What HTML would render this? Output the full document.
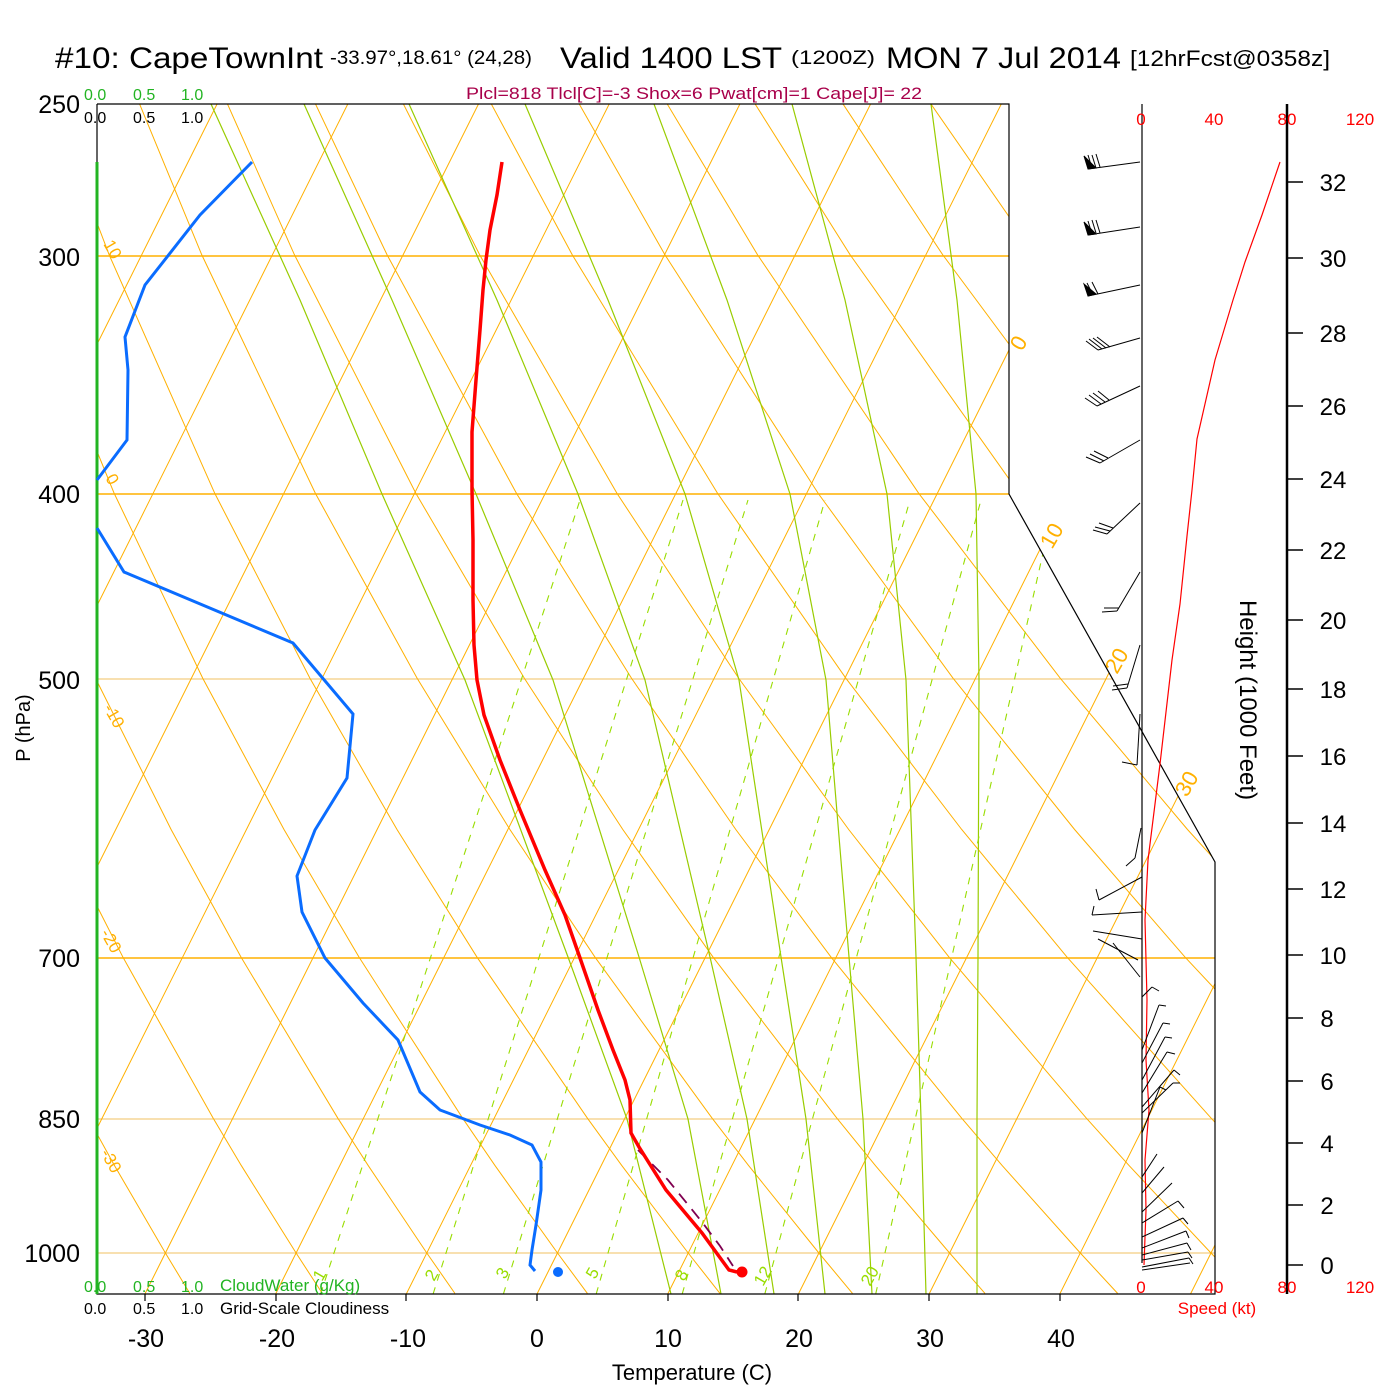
<!DOCTYPE html>
<html><head><meta charset="utf-8"><style>
html,body{margin:0;padding:0;background:#fff;}
svg{display:block;font-family:"Liberation Sans",Arial,sans-serif;}
</style></head><body>
<svg width="1400" height="1400" viewBox="0 0 1400 1400" xmlns="http://www.w3.org/2000/svg">
<defs><clipPath id="cp"><polygon points="97,104 1009,104 1009,494 1215,862 1215,1294 97,1294"/></clipPath></defs>
<rect width="1400" height="1400" fill="#fff"/>
<g clip-path="url(#cp)" fill="none">
<!-- isobars -->
<g stroke="#ffb000" stroke-width="1.6">
<line x1="97" y1="256" x2="1215" y2="256"/><line x1="97" y1="494" x2="1215" y2="494"/><line x1="97" y1="958" x2="1215" y2="958"/>
</g>
<g stroke="#f0c060" stroke-width="1">
<line x1="97" y1="679" x2="1215" y2="679"/><line x1="97" y1="1119" x2="1215" y2="1119"/><line x1="97" y1="1253" x2="1215" y2="1253"/>
</g>
<!-- isotherms -->
<g stroke="#ffb000" stroke-width="1">
<line x1="-377.9" y1="1294" x2="217.1" y2="104"/>
<line x1="-247.2" y1="1294" x2="347.8" y2="104"/>
<line x1="-116.5" y1="1294" x2="478.5" y2="104"/>
<line x1="14.2" y1="1294" x2="609.2" y2="104"/>
<line x1="144.9" y1="1294" x2="739.9" y2="104"/>
<line x1="275.6" y1="1294" x2="870.6" y2="104"/>
<line x1="406.3" y1="1294" x2="1001.3" y2="104"/>
<line x1="537" y1="1294" x2="1132" y2="104"/>
<line x1="667.7" y1="1294" x2="1262.7" y2="104"/>
<line x1="798.4" y1="1294" x2="1393.4" y2="104"/>
<line x1="929.1" y1="1294" x2="1524.1" y2="104"/>
<line x1="1059.8" y1="1294" x2="1654.8" y2="104"/>
<line x1="1190.5" y1="1294" x2="1785.5" y2="104"/>
</g>
<!-- dry adiabats -->
<g stroke="#ffb000" stroke-width="1">
<polyline points="189.8,1293.4 165.4,1253 114.6,1165.7 88.4,1118.3 5,957.3 -54.8,829.5 -118.8,678.4 -187.5,493.4"/>
<polyline points="322.3,1293.4 296.1,1253 241.4,1165.7 213.2,1118.3 123,957.3 58.1,829.5 -11.6,678.4 -86.9,493.4"/>
<polyline points="454.9,1293.4 426.8,1253 368.3,1165.7 337.9,1118.3 241.1,957.3 171.1,829.5 95.6,678.4 13.7,493.4 -76.1,254.9"/>
<polyline points="587.4,1293.4 557.5,1253 495.1,1165.7 462.7,1118.3 359.1,957.3 284,829.5 202.8,678.4 114.2,493.4 16.6,254.9 -36.3,103.8"/>
<polyline points="720,1293.4 688.2,1253 621.9,1165.7 587.5,1118.3 477.1,957.3 397,829.5 310,678.4 214.8,493.4 109.2,254.9 51.6,103.8"/>
<polyline points="852.5,1293.4 818.9,1253 748.7,1165.7 712.2,1118.3 595.1,957.3 509.9,829.5 417.2,678.4 315.4,493.4 201.8,254.9 139.5,103.8"/>
<polyline points="985,1293.4 949.6,1253 875.5,1165.7 837,1118.3 713.2,957.3 622.8,829.5 524.4,678.4 415.9,493.4 294.5,254.9 227.4,103.8"/>
<polyline points="1117.6,1293.4 1080.3,1253 1002.3,1165.7 961.8,1118.3 831.2,957.3 735.8,829.5 631.6,678.4 516.5,493.4 387.1,254.9 315.4,103.8"/>
<polyline points="1250.1,1293.4 1211,1253 1129.2,1165.7 1086.5,1118.3 949.2,957.3 848.7,829.5 738.8,678.4 617,493.4 479.7,254.9 403.3,103.8"/>
<polyline points="1382.7,1293.4 1341.7,1253 1256,1165.7 1211.3,1118.3 1067.2,957.3 961.7,829.5 846,678.4 717.6,493.4 572.3,254.9 491.2,103.8"/>
<polyline points="1515.2,1293.4 1472.4,1253 1382.8,1165.7 1336.1,1118.3 1185.2,957.3 1074.6,829.5 953.2,678.4 818.2,493.4 665,254.9 579.1,103.8"/>
<polyline points="1647.8,1293.4 1603.1,1253 1509.6,1165.7 1460.8,1118.3 1303.3,957.3 1187.5,829.5 1060.4,678.4 918.8,493.4 757.6,254.9 667.1,103.8"/>
<polyline points="1780.3,1293.4 1733.8,1253 1636.4,1165.7 1585.6,1118.3 1421.3,957.3 1300.5,829.5 1167.6,678.4 1019.3,493.4 850.2,254.9 755,103.8"/>
<polyline points="1912.8,1293.4 1864.5,1253 1763.3,1165.7 1710.4,1118.3 1539.3,957.3 1413.4,829.5 1274.8,678.4 1119.9,493.4 942.8,254.9 842.9,103.8"/>
<polyline points="2045.4,1293.4 1995.2,1253 1890.1,1165.7 1835.1,1118.3 1657.3,957.3 1526.4,829.5 1382,678.4 1220.5,493.4 1035.5,254.9 930.8,103.8"/>
</g>
<!-- moist adiabats -->
<g stroke="#99cc00" stroke-width="1.2">
<polyline points="211,104 300,300 382,494 465,680 568,957 627,1119 671,1294"/>
<polyline points="304,104 392,300 476,494 553,680 639,957 688,1119 721,1294"/>
<polyline points="409,104 497,300 578,494 645,680 710,957 747,1119 774,1294"/>
<polyline points="525,104 608,300 685,494 739,680 781,957 806,1119 825,1294"/>
<polyline points="654,104 727,300 790,494 826,680 849,957 863,1119 872,1294"/>
<polyline points="792,104 845,300 887,494 906,680 916,957 921,1119 926,1294"/>
<polyline points="931,104 957,300 976,494 979,680 978,957 977,1119 977,1294"/>
</g>
<!-- mixing ratio -->
<g stroke="#99dd00" stroke-width="1.1" stroke-dasharray="7,7">
<line x1="320.6" y1="1294" x2="580" y2="500"/>
<line x1="433.1" y1="1294" x2="683" y2="500"/>
<line x1="503.4" y1="1294" x2="748" y2="500"/>
<line x1="596.2" y1="1294" x2="825" y2="500"/>
<line x1="682.2" y1="1294" x2="910" y2="500"/>
<line x1="764.8" y1="1294" x2="981" y2="500"/>
<line x1="875.7" y1="1294" x2="1055" y2="500"/>
</g>
</g>
<!-- border -->
<polyline points="97,104 1009,104 1009,494 1215,862 1215,1294 97,1294 97,104" fill="none" stroke="#000" stroke-width="1.2"/>
<line x1="97" y1="162" x2="97" y2="1294" stroke="#22b422" stroke-width="3"/>
<g stroke="#000" stroke-width="1.2">
<line x1="145" y1="1294" x2="145" y2="1301"/><line x1="276" y1="1294" x2="276" y2="1301"/><line x1="406" y1="1294" x2="406" y2="1301"/><line x1="537" y1="1294" x2="537" y2="1301"/><line x1="668" y1="1294" x2="668" y2="1301"/><line x1="798" y1="1294" x2="798" y2="1301"/><line x1="929" y1="1294" x2="929" y2="1301"/><line x1="1060" y1="1294" x2="1060" y2="1301"/>
</g>
<!-- title -->
<text x="55" y="68" font-size="30" textLength="268" lengthAdjust="spacingAndGlyphs">#10: CapeTownInt</text>
<text x="330" y="64" font-size="19" textLength="202" lengthAdjust="spacingAndGlyphs">-33.97°,18.61° (24,28)</text>
<text x="560" y="68" font-size="30" textLength="222" lengthAdjust="spacingAndGlyphs">Valid 1400 LST</text>
<text x="791" y="64" font-size="19" textLength="84" lengthAdjust="spacingAndGlyphs">(1200Z)</text>
<text x="886" y="68" font-size="30" textLength="235" lengthAdjust="spacingAndGlyphs">MON 7 Jul 2014</text>
<text x="1130" y="66" font-size="22" textLength="200" lengthAdjust="spacingAndGlyphs">[12hrFcst@0358z]</text>
<text x="466" y="99" font-size="17" fill="#a8004a" textLength="456" lengthAdjust="spacingAndGlyphs">Plcl=818 Tlcl[C]=-3 Shox=6 Pwat[cm]=1 Cape[J]= 22</text>
<g font-size="16" fill="#22b422"><text x="84" y="100">0.0</text><text x="133" y="100">0.5</text><text x="181" y="100">1.0</text></g>
<g font-size="16" fill="#000"><text x="84" y="123">0.0</text><text x="133" y="123">0.5</text><text x="181" y="123">1.0</text></g>
<g font-size="16" fill="#22b422"><text x="84" y="1292">0.0</text><text x="133" y="1292">0.5</text><text x="181" y="1292">1.0</text><text x="220" y="1291" font-size="17">CloudWater (g/Kg)</text></g>
<g font-size="16" fill="#000"><text x="84" y="1314">0.0</text><text x="133" y="1314">0.5</text><text x="181" y="1314">1.0</text><text x="220" y="1314" font-size="17">Grid-Scale Cloudiness</text></g>
<g font-size="25" text-anchor="end">
<text x="80" y="113">250</text><text x="80" y="266">300</text><text x="80" y="503">400</text><text x="80" y="689">500</text><text x="80" y="967">700</text><text x="80" y="1128">850</text><text x="80" y="1262">1000</text>
</g>
<text transform="translate(30,728) rotate(-90)" font-size="20" text-anchor="middle">P (hPa)</text>
<g font-size="25" text-anchor="middle">
<text x="146" y="1347">-30</text><text x="277" y="1347">-20</text><text x="408" y="1347">-10</text><text x="537" y="1347">0</text><text x="668" y="1347">10</text><text x="799" y="1347">20</text><text x="930" y="1347">30</text><text x="1061" y="1347">40</text>
</g>
<text x="692" y="1380" font-size="22" text-anchor="middle">Temperature (C)</text>
<g font-size="22" fill="#ffb000">
<text transform="translate(1022,352) rotate(-60)">0</text>
<text transform="translate(1052,550) rotate(-60)">10</text>
<text transform="translate(1117,675) rotate(-60)">20</text>
<text transform="translate(1187,798) rotate(-60)">30</text>
</g>
<g font-size="17" fill="#ffb000">
<text transform="translate(103,244) rotate(60)">10</text>
<text transform="translate(105,478) rotate(60)">0</text>
<text transform="translate(103,708) rotate(60)">-10</text>
<text transform="translate(100,933) rotate(60)">-20</text>
<text transform="translate(100,1153) rotate(60)">-30</text>
</g>
<g font-size="17" fill="#99dd00">
<text transform="translate(322,1282) rotate(-60)">1</text>
<text transform="translate(434,1282) rotate(-60)">2</text>
<text transform="translate(505,1280) rotate(-60)">3</text>
<text transform="translate(595,1280) rotate(-60)">5</text>
<text transform="translate(684,1282) rotate(-60)">8</text>
<text transform="translate(763,1287) rotate(-60)">12</text>
<text transform="translate(870,1287) rotate(-60)">20</text>
</g>
<!-- data -->
<polyline fill="none" stroke="#0a6cff" stroke-width="3" points="252,162 200,215 145,285 125,337 128,370 127,440 97,480"/>
<polyline fill="none" stroke="#0a6cff" stroke-width="3" points="97,528 124,572 293,643 353,714 347,778 315,830 297,876 302,912 325,958 363,1003 398,1040 420,1092 440,1110 480,1125 510,1135 532,1145 541,1162 541,1190 536,1225 532,1250 530,1265 535,1271"/>
<polyline fill="none" stroke="#800050" stroke-width="1.8" stroke-dasharray="12,8" points="638,1150 668,1180 702,1222 720,1246 733,1266"/>
<polyline fill="none" stroke="#ff0000" stroke-width="3.5" points="502,162 497,195 490,230 486,260 483,290 480,330 476,380 472,432 472,490 473,540 473,600 474,645 477,680 484,715 500,760 520,810 545,870 565,915 580,958 598,1010 613,1050 625,1080 630,1100 631,1133 639,1147 666,1190 702,1233 729,1270 737,1272"/>
<circle cx="558" cy="1272" r="5" fill="#0a6cff"/>
<circle cx="742" cy="1272" r="5.5" fill="#ff0000"/>
<!-- right panel -->
<line x1="1142" y1="104" x2="1142" y2="1263" stroke="#000" stroke-width="1.2"/>
<line x1="1287" y1="104" x2="1287" y2="1294" stroke="#000" stroke-width="2.5"/>
<g stroke="#000" stroke-width="1.5">
<line x1="1287" y1="1265" x2="1303" y2="1265"/><line x1="1287" y1="1205" x2="1303" y2="1205"/><line x1="1287" y1="1143" x2="1303" y2="1143"/><line x1="1287" y1="1081" x2="1303" y2="1081"/><line x1="1287" y1="1018" x2="1303" y2="1018"/><line x1="1287" y1="955" x2="1303" y2="955"/><line x1="1287" y1="889" x2="1303" y2="889"/><line x1="1287" y1="823" x2="1303" y2="823"/><line x1="1287" y1="756" x2="1303" y2="756"/><line x1="1287" y1="689" x2="1303" y2="689"/><line x1="1287" y1="620" x2="1303" y2="620"/><line x1="1287" y1="550" x2="1303" y2="550"/><line x1="1287" y1="479" x2="1303" y2="479"/><line x1="1287" y1="406" x2="1303" y2="406"/><line x1="1287" y1="333" x2="1303" y2="333"/><line x1="1287" y1="258" x2="1303" y2="258"/><line x1="1287" y1="182" x2="1303" y2="182"/>
</g>
<g font-size="24" text-anchor="middle">
<text x="1327" y="1274">0</text><text x="1327" y="1214">2</text><text x="1327" y="1152">4</text><text x="1327" y="1090">6</text><text x="1327" y="1027">8</text><text x="1333" y="964">10</text><text x="1333" y="898">12</text><text x="1333" y="832">14</text><text x="1333" y="765">16</text><text x="1333" y="698">18</text><text x="1333" y="629">20</text><text x="1333" y="559">22</text><text x="1333" y="488">24</text><text x="1333" y="415">26</text><text x="1333" y="342">28</text><text x="1333" y="267">30</text><text x="1333" y="191">32</text>
</g>
<g font-size="17" fill="#ff0000" text-anchor="middle">
<text x="1141" y="125">0</text><text x="1214" y="125">40</text><text x="1287" y="125">80</text><text x="1360" y="125">120</text>
<text x="1141" y="1293">0</text><text x="1214" y="1293">40</text><text x="1287" y="1293">80</text><text x="1360" y="1293">120</text>
<text x="1217" y="1314">Speed (kt)</text>
</g>
<text transform="translate(1240,700) rotate(90)" font-size="24" text-anchor="middle">Height (1000 Feet)</text>
<polyline fill="none" stroke="#ff0000" stroke-width="1.2" points="1280,162 1262,215 1245,262 1233,300 1215,360 1197,439 1192,490 1187,536 1180,604 1172,660 1160,764 1148,860 1145,920 1147,1000 1146,1060 1149,1110 1145,1160 1146,1210 1144,1265"/>
<!-- barbs -->
<g stroke="#000" stroke-width="1" fill="none">
<polyline points="1140,162 1088,169"/><polygon points="1088,169 1096,168 1084,156" fill="#000"/><line x1="1092" y1="168" x2="1088" y2="155"/><line x1="1096" y1="168" x2="1092" y2="155"/><line x1="1100" y1="167" x2="1096" y2="154"/>
<polyline points="1140,227 1088,235"/><polygon points="1088,235 1096,234 1084,222" fill="#000"/><line x1="1092" y1="234" x2="1088" y2="221"/><line x1="1096" y1="233" x2="1092" y2="220"/><line x1="1100" y1="233" x2="1096" y2="220"/>
<polyline points="1140,285 1088,296"/><polygon points="1088,296 1096,294 1084,284" fill="#000"/><line x1="1093" y1="295" x2="1087" y2="283"/><line x1="1098" y1="294" x2="1092" y2="282"/>
<polyline points="1140,338 1098,350"/><line x1="1098" y1="350" x2="1086" y2="341"/><line x1="1102" y1="349" x2="1089" y2="339"/><line x1="1106" y1="348" x2="1093" y2="338"/><line x1="1110" y1="347" x2="1097" y2="337"/>
<polyline points="1140,386 1097,406"/><line x1="1097" y1="406" x2="1085" y2="398"/><line x1="1101" y1="404" x2="1089" y2="395"/><line x1="1105" y1="402" x2="1093" y2="393"/><line x1="1109" y1="400" x2="1098" y2="391"/>
<polyline points="1140,440 1100,463"/><line x1="1100" y1="463" x2="1086" y2="457"/><line x1="1104" y1="461" x2="1090" y2="454"/><line x1="1108" y1="458" x2="1094" y2="451"/>
<polyline points="1140,503 1107,534"/><line x1="1107" y1="534" x2="1093" y2="530"/><line x1="1110" y1="531" x2="1095" y2="527"/><line x1="1113" y1="528" x2="1099" y2="523"/>
<polyline points="1140,572 1117,611"/><line x1="1117" y1="611" x2="1102" y2="612"/><line x1="1119" y1="608" x2="1104" y2="608"/>
<polyline points="1140,645 1127,688"/><line x1="1127" y1="688" x2="1112" y2="690"/><line x1="1128" y1="684" x2="1113" y2="686"/>
<polyline points="1140,714 1137,765"/><line x1="1137" y1="765" x2="1122" y2="762"/>
<polyline points="1141,828 1135,858"/><line x1="1135" y1="858" x2="1126" y2="866"/>
<line x1="1142" y1="877" x2="1099" y2="900"/><line x1="1099" y1="900" x2="1096" y2="889"/>
<line x1="1142" y1="912" x2="1092" y2="915"/><line x1="1092" y1="915" x2="1094" y2="906"/>
<line x1="1142" y1="939" x2="1093" y2="931"/>
<line x1="1138" y1="960" x2="1098" y2="939"/>
<line x1="1140" y1="977" x2="1113" y2="943"/>
<line x1="1142" y1="997" x2="1152" y2="987"/><line x1="1152" y1="987" x2="1159" y2="991"/>
<line x1="1142" y1="1050" x2="1159" y2="1005"/><line x1="1159" y1="1005" x2="1166" y2="1006"/>
<line x1="1142" y1="1063" x2="1163" y2="1023"/><line x1="1163" y1="1023" x2="1170" y2="1024"/>
<line x1="1142" y1="1080" x2="1165" y2="1037"/><line x1="1165" y1="1037" x2="1172" y2="1038"/>
<line x1="1142" y1="1093" x2="1167" y2="1052"/><line x1="1167" y1="1052" x2="1175" y2="1054"/>
<line x1="1142" y1="1107" x2="1174" y2="1070"/><line x1="1174" y1="1070" x2="1180" y2="1075"/>
<line x1="1142" y1="1113" x2="1173" y2="1083"/><line x1="1173" y1="1083" x2="1180" y2="1083"/>
<line x1="1142" y1="1133" x2="1160" y2="1087"/><line x1="1160" y1="1087" x2="1166" y2="1090"/>
<line x1="1142" y1="1177" x2="1157" y2="1154"/>
<line x1="1142" y1="1193" x2="1164" y2="1167"/>
<line x1="1142" y1="1212" x2="1172" y2="1183"/>
<line x1="1142" y1="1223" x2="1178" y2="1201"/><line x1="1178" y1="1201" x2="1184" y2="1208"/>
<line x1="1142" y1="1237" x2="1183" y2="1218"/><line x1="1183" y1="1218" x2="1188" y2="1224"/>
<line x1="1142" y1="1248" x2="1186" y2="1231"/><line x1="1186" y1="1231" x2="1189" y2="1238"/>
<line x1="1142" y1="1255" x2="1187" y2="1243"/><line x1="1187" y1="1243" x2="1191" y2="1250"/>
<line x1="1142" y1="1260" x2="1188" y2="1252"/><line x1="1188" y1="1252" x2="1192" y2="1258"/>
<line x1="1142" y1="1267" x2="1189" y2="1258"/><line x1="1189" y1="1258" x2="1193" y2="1264"/>
<line x1="1142" y1="1270" x2="1190" y2="1263"/>
</g>
</svg>
</body></html>
